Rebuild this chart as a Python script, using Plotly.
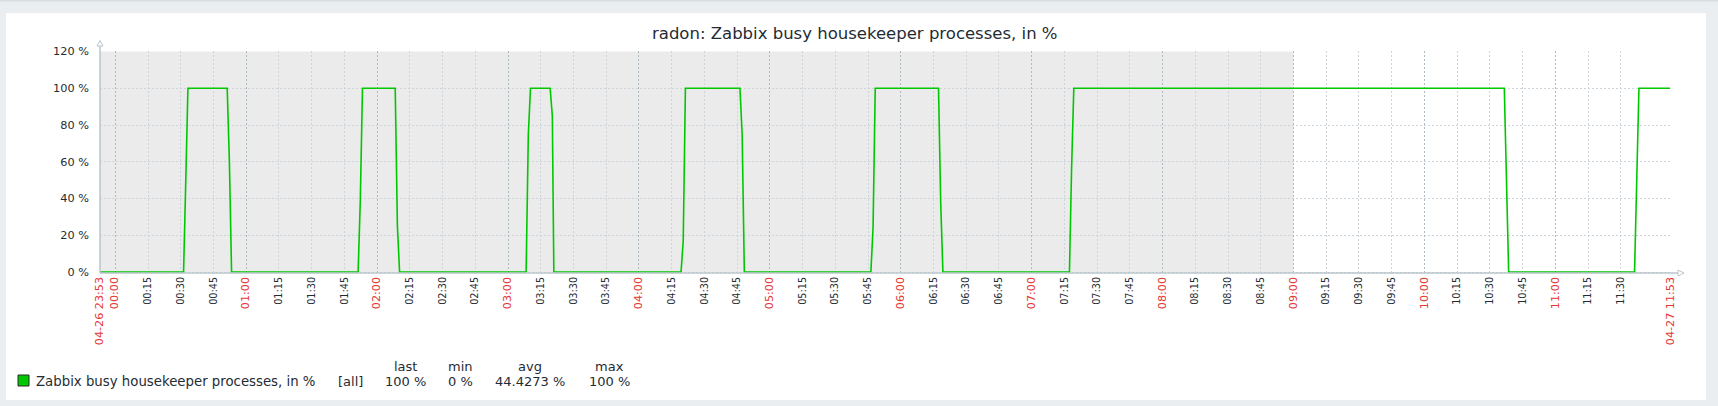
import plotly.graph_objects as go
from datetime import datetime, timedelta

# ---------------- data ----------------
sample_times = [
    "2024-04-26 23:53:00", "2024-04-27 00:31:18", "2024-04-27 00:32:18", "2024-04-27 00:33:18",
    "2024-04-27 00:51:18", "2024-04-27 00:52:18", "2024-04-27 00:53:18",
    "2024-04-27 01:51:18", "2024-04-27 01:52:18", "2024-04-27 01:53:18",
    "2024-04-27 02:08:18", "2024-04-27 02:09:18", "2024-04-27 02:10:18",
    "2024-04-27 03:08:18", "2024-04-27 03:09:18", "2024-04-27 03:10:18",
    "2024-04-27 03:19:18", "2024-04-27 03:20:18", "2024-04-27 03:21:00",
    "2024-04-27 04:19:18", "2024-04-27 04:20:18", "2024-04-27 04:21:18",
    "2024-04-27 04:46:18", "2024-04-27 04:47:18", "2024-04-27 04:48:18",
    "2024-04-27 05:46:18", "2024-04-27 05:47:18", "2024-04-27 05:48:18",
    "2024-04-27 06:17:18", "2024-04-27 06:18:18", "2024-04-27 06:19:18",
    "2024-04-27 07:17:18", "2024-04-27 07:18:18", "2024-04-27 07:19:18",
    "2024-04-27 10:36:36", "2024-04-27 10:37:36", "2024-04-27 10:38:36",
    "2024-04-27 11:36:18", "2024-04-27 11:37:18", "2024-04-27 11:38:18",
    "2024-04-27 11:52:36",
]
sample_values = [
    0, 0, 49, 100,
    100, 60, 0,
    0, 39, 100,
    100, 25, 0,
    0, 75, 100,
    100, 85, 0,
    0, 17, 100,
    100, 75, 0,
    0, 24, 100,
    100, 38, 0,
    0, 57, 100,
    100, 40, 0,
    0, 60, 100,
    100,
]

period_start = "2024-04-26 23:53:00"
period_end = "2024-04-27 11:53:00"
worktime_start = "2024-04-27 09:00:00"

y_ticks = [0, 20, 40, 60, 80, 100, 120]
y_tick_labels = ["0 %", "20 %", "40 %", "60 %", "80 %", "100 %", "120 %"]

title_text = "radon: Zabbix busy housekeeper processes, in %"
item_name = "Zabbix busy housekeeper processes, in %"
item_func = "[all]"
stat_names = ["last", "min", "avg", "max"]
stat_values = ["100 %", "0 %", "44.4273 %", "100 %"]

# ---------------- styling ----------------
W, H = 1718, 406
L, R, T, B = 100, 47, 51, 132
PW = W - L - R
PH = H - T - B
FONT = "DejaVu Sans"
TEXT = "#1F2C33"
RED = "#E33734"
GRID = "#CCD5D9"
MAINGRID = "#ACBBC2"
AXIS = "#BAC6CC"
GREEN = "#00C800"
PAGE_BG = "#EBEEF0"
NONWORK = "#EBEBEB"


def px_x(x):
    return (x - L) / PW


def px_y(y):
    return (H - B - y) / PH


def red(txt, size=11.2):
    return '<span style="color:%s;font-size:%spx">%s</span>' % (RED, size, txt)


# x ticks every 15 min plus the period endpoints (last 15-min mark too close to the end is skipped)
t_start = datetime.strptime(period_start, "%Y-%m-%d %H:%M:%S")
t_end = datetime.strptime(period_end, "%Y-%m-%d %H:%M:%S")
tick_vals = [t_start]
tick_text = [red(t_start.strftime("%m-%d %H:%M"))]
t = datetime(2024, 4, 27, 0, 0)
while t < t_end - timedelta(minutes=10):
    tick_vals.append(t)
    lbl = t.strftime("%H:%M")
    tick_text.append(red(lbl) if t.minute == 0 else lbl)
    t += timedelta(minutes=15)
tick_vals.append(t_end)
tick_text.append(red(t_end.strftime("%m-%d %H:%M")))

fig = go.Figure()
fig.add_trace(go.Scatter(
    x=sample_times, y=sample_values, mode="lines",
    line=dict(color=GREEN, width=1.6), showlegend=False, hoverinfo="skip",
))
# helper trace for hour grid axis
fig.add_trace(go.Scatter(x=[period_start], y=[None], xaxis="x2", yaxis="y",
                         mode="lines", showlegend=False, hoverinfo="skip"))

# y range so that 0 % sits at y=272px, 120 % at 51.5px
k = (272 - 51.5) / 120.0
y_lo = -((H - B) - 272) / k
y_hi = 120 + (51.5 - T) / k

shapes = [
    # page band at very top
    dict(type="rect", xref="paper", yref="paper", x0=px_x(0), x1=px_x(W), y0=px_y(0), y1=px_y(1.5),
         fillcolor="#D8DDE1", line=dict(width=0), layer="below"),
    # white widget panel
    dict(type="rect", xref="paper", yref="paper", x0=px_x(6), x1=px_x(1706), y0=px_y(400), y1=px_y(13),
         fillcolor="white", line=dict(width=0), layer="below"),
    # non-working time shading
    dict(type="rect", xref="x", yref="y", x0=period_start, x1=worktime_start, y0=0, y1=120,
         fillcolor=NONWORK, line=dict(width=0), layer="below"),
    # y axis line + arrow
    dict(type="line", xref="paper", yref="paper", x0=px_x(100), x1=px_x(100), y0=px_y(273), y1=px_y(46),
         line=dict(color=AXIS, width=1.5), layer="above"),
    dict(type="path", xref="paper", yref="paper",
         path="M %f,%f L %f,%f L %f,%f Z" % (px_x(97), px_y(46), px_x(100), px_y(40.5), px_x(103), px_y(46)),
         fillcolor="white", line=dict(color=AXIS, width=1), layer="above"),
    # x axis line + arrow
    dict(type="line", xref="paper", yref="paper", x0=px_x(100), x1=px_x(1678), y0=px_y(273), y1=px_y(273),
         line=dict(color=AXIS, width=1.5), layer="above"),
    dict(type="path", xref="paper", yref="paper",
         path="M %f,%f L %f,%f L %f,%f Z" % (px_x(1678), px_y(270), px_x(1684), px_y(273), px_x(1678), px_y(276)),
         fillcolor="white", line=dict(color=AXIS, width=1), layer="above"),
    # legend colour box
    dict(type="rect", xref="paper", yref="paper", x0=px_x(18), x1=px_x(29), y0=px_y(386), y1=px_y(375),
         fillcolor=GREEN, line=dict(color="#2A2A2A", width=1), layer="above"),
]

annotations = [
    dict(text=title_text, xref="paper", yref="paper", x=px_x(855), y=px_y(33),
         xanchor="center", yanchor="middle", showarrow=False, font=dict(family=FONT, size=16.5, color=TEXT)),
    dict(text=item_name, xref="paper", yref="paper", x=px_x(34), y=px_y(381),
         xanchor="left", yanchor="middle", showarrow=False, font=dict(family=FONT, size=13.3, color=TEXT)),
    dict(text=item_func, xref="paper", yref="paper", x=px_x(336), y=px_y(381),
         xanchor="left", yanchor="middle", showarrow=False, font=dict(family=FONT, size=13, color=TEXT)),
]
stat_centers = [405, 460, 529.5, 609]
for name, val, cx in zip(stat_names, stat_values, stat_centers):
    annotations.append(dict(text=name, xref="paper", yref="paper", x=px_x(cx), y=px_y(366),
                            xanchor="center", yanchor="middle", showarrow=False,
                            font=dict(family=FONT, size=13, color=TEXT)))
    annotations.append(dict(text=val, xref="paper", yref="paper", x=px_x(cx), y=px_y(381),
                            xanchor="center", yanchor="middle", showarrow=False,
                            font=dict(family=FONT, size=13, color=TEXT)))

fig.update_layout(
    width=W, height=H,
    margin=dict(l=L, r=R, t=T, b=B, pad=0),
    paper_bgcolor=PAGE_BG, plot_bgcolor="white",
    font=dict(family=FONT, color=TEXT),
    showlegend=False,
    shapes=shapes, annotations=annotations,
    xaxis=dict(
        type="date", range=[period_start, period_end], tickmode="array",
        tickvals=tick_vals, ticktext=tick_text, tickangle=-90,
        tickfont=dict(family=FONT, size=9.7, color=TEXT),
        showgrid=True, gridcolor=GRID, griddash="2px,2px", gridwidth=1,
        zeroline=False, showline=False, ticks="", automargin=False,
    ),
    xaxis2=dict(
        type="date", range=[period_start, period_end], overlaying="x",
        tickmode="linear", tick0="2024-04-27 00:00:00", dtick=3600000,
        showgrid=True, gridcolor=MAINGRID, griddash="2px,2px", gridwidth=1,
        showticklabels=False, ticks="", zeroline=False, showline=False, automargin=False,
    ),
    yaxis=dict(
        range=[y_lo, y_hi], tickmode="array", tickvals=y_ticks, ticktext=y_tick_labels,
        tickfont=dict(family=FONT, size=11.3, color=TEXT), ticklabelstandoff=10,
        showgrid=True, gridcolor=GRID, griddash="2px,2px", gridwidth=1,
        zeroline=False, showline=False, ticks="", automargin=False,
    ),
)

fig.write_html(
    "out.html",
    config={"displayModeBar": False},
    post_script="document.body.style.margin='0';document.body.style.padding='0';"
                "document.documentElement.style.overflow='hidden';",
)
